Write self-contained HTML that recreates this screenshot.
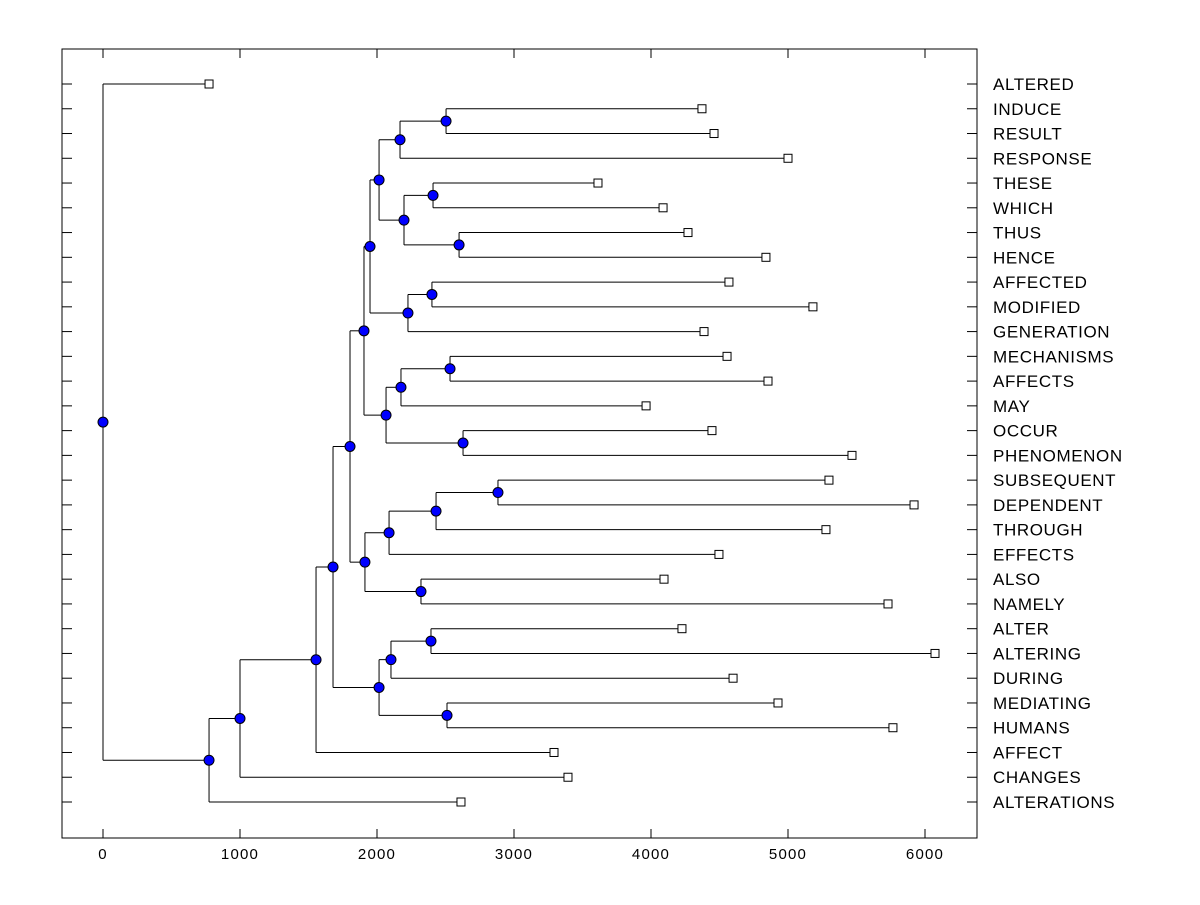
<!DOCTYPE html>
<html><head><meta charset="utf-8"><style>
body{margin:0;background:#fff}
svg text{font-family:"Liberation Sans",Arial,sans-serif}
</style></head><body>
<svg id="c" width="1200" height="900" xmlns="http://www.w3.org/2000/svg"></svg>
<script>
const labels=["ALTERED","INDUCE","RESULT","RESPONSE","THESE","WHICH","THUS","HENCE","AFFECTED","MODIFIED","GENERATION","MECHANISMS","AFFECTS","MAY","OCCUR","PHENOMENON","SUBSEQUENT","DEPENDENT","THROUGH","EFFECTS","ALSO","NAMELY","ALTER","ALTERING","DURING","MEDIATING","HUMANS","AFFECT","CHANGES","ALTERATIONS"];
const leafValues=[774,4372,4460,5000,3613,4088,4270,4839,4569,5182,4387,4555,4854,3964,4445,5467,5299,5920,5277,4496,4095,5730,4226,6073,4599,4927,5766,3292,3394,2613];
// internal merges: [childA, childB, height]; leaves are indices 0..29, nodes are "n"+k
const merges=[
 [1,2,2504],        //n0
 ["n0",3,2168],     //n1
 [4,5,2409],        //n2
 [6,7,2599],        //n3
 ["n2","n3",2197],  //n4
 ["n1","n4",2015],  //n5
 [8,9,2401],        //n6
 ["n6",10,2226],    //n7
 ["n5","n7",1949],  //n8
 [11,12,2533],      //n9
 ["n9",13,2175],    //n10
 [14,15,2628],      //n11
 ["n10","n11",2066],//n12
 ["n8","n12",1905], //n13
 [16,17,2883],      //n14
 ["n14",18,2431],   //n15
 ["n15",19,2088],   //n16
 [20,21,2321],      //n17
 ["n16","n17",1912],//n18
 ["n13","n18",1803],//n19
 [22,23,2394],      //n20
 ["n20",24,2102],   //n21
 [25,26,2511],      //n22
 ["n21","n22",2015],//n23
 ["n19","n23",1679],//n24
 ["n24",27,1555],   //n25
 ["n25",28,1000],   //n26
 ["n26",29,774],    //n27
 [0,"n27",0]        //n28 root
];
const xTicks=[0,1000,2000,3000,4000,5000,6000];
const NS="http://www.w3.org/2000/svg",svg=document.getElementById('c');
const L=62,T=49,R=977,B=838;
const X=v=>103+v*0.137;
const Y=i=>84+i*(802-84)/29;
function el(t,a,p){const e=document.createElementNS(NS,t);for(const k in a)e.setAttribute(k,a[k]);(p||svg).appendChild(e);return e;}
const frame=el('rect',{x:L,y:T,width:R-L,height:B-T,fill:'none',stroke:'#000','stroke-width':1});


xTicks.forEach(v=>{
 const x=X(v);
 el('line',{x1:x,y1:B,x2:x,y2:B-9,stroke:'#000'});
 el('line',{x1:x,y1:T,x2:x,y2:T+9,stroke:'#000'});
 const t=el('text',{x:x,y:859,'text-anchor':'middle','font-size':15,'letter-spacing':1.2});t.textContent=v;
 
 
});
labels.forEach((s,i)=>{
 const y=Y(i);
 el('line',{x1:L,y1:y,x2:L+10,y2:y,stroke:'#000'});
 el('line',{x1:R,y1:y,x2:R-10,y2:y,stroke:'#000'});
 const t=el('text',{x:993,y:y+6,'font-size':17,'letter-spacing':0.6});t.textContent=s;
 
 
});
const pos={};
labels.forEach((s,i)=>{pos[i]={x:X(leafValues[i]),y:Y(i),leaf:true};});
const g=el('g',{});
const marks=[];
merges.forEach((m,k)=>{
 const a=pos[m[0]],b=pos[m[1]],x=X(m[2]),y=(a.y+b.y)/2;
 pos["n"+k]={x,y};
 el('line',{x1:x,y1:a.y,x2:x,y2:b.y,stroke:'#000'},g);
 el('line',{x1:x,y1:a.y,x2:a.x,y2:a.y,stroke:'#000'},g);
 el('line',{x1:x,y1:b.y,x2:b.x,y2:b.y,stroke:'#000'},g);
 marks.push([x,y]);
});
marks.forEach(([x,y])=>{
 const c=el('circle',{cx:x,cy:y,r:5,fill:'#0000ff',stroke:'#000','stroke-width':1});
 
 
});
labels.forEach((s,i)=>{
 const p=pos[i];
 const r=el('rect',{x:p.x-4,y:p.y-4,width:8,height:8,fill:'#fff',stroke:'#000'});
 
 
});
</script>
</body></html>
